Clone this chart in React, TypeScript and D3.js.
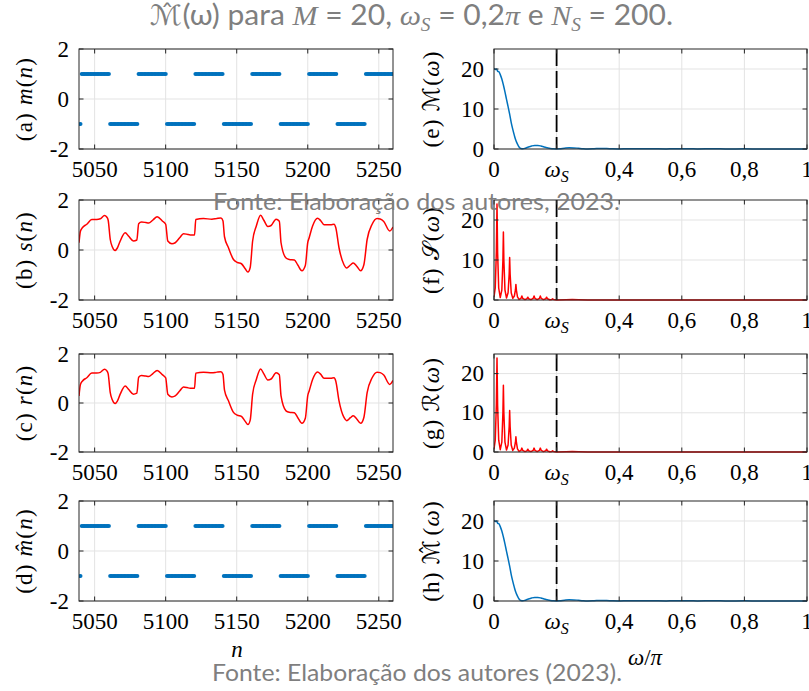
import React from "react";
import * as d3 from "d3";

// ---------- data ----------
const M_BLOCK = 20;
const blockStart = 5021;
const bits = [-1, 1, -1, 1, -1, 1, -1, 1, -1, 1, -1, 1];
const nFirst = 5040;
const nLast = 5260;

// s(n) keypoints
const sN = [5039, 5040, 5041.5, 5044.5, 5048, 5051.5, 5054, 5057, 5058.5, 5059.5, 5061, 5062.5, 5064.4, 5066, 5068, 5071.5, 5074, 5077.3, 5079.7, 5081, 5083, 5086, 5088, 5091, 5094, 5097.8, 5100, 5101.5, 5104.4, 5106.7, 5110, 5112.5, 5115, 5117.3, 5120.3, 5121.2, 5126.6, 5132.5, 5136, 5138.9, 5140.3, 5141.4, 5144.2, 5147.7, 5150.5, 5153.3, 5156, 5157.9, 5159.5, 5161.2, 5163.8, 5166.8, 5169, 5171.9, 5174.2, 5177.7, 5180, 5181.2, 5184.7, 5187, 5190.6, 5193, 5195.9, 5198.3, 5200, 5201, 5203.4, 5206.9, 5209, 5211.5, 5216.2, 5218.5, 5219.7, 5222, 5225.5, 5227.4, 5230, 5232, 5234.5, 5237.2, 5239.5, 5241.8, 5245.3, 5248.8, 5251, 5253.5, 5257.7, 5260];
const sV = [0.29, 0.75, 0.9, 1.03, 1.22, 1.22, 1.25, 1.38, 1.32, 1.2, 0.42, 0.12, -0.02, 0.08, 0.36, 0.69, 0.55, 0.36, 0.4, 1.05, 1.12, 1.1, 1.08, 1.2, 1.33, 1.15, 1.03, 0.36, 0.25, 0.29, 0.5, 0.65, 0.63, 0.6, 0.6, 1.22, 1.26, 1.23, 1.26, 1.28, 1.17, 0.53, 0.09, -0.38, -0.5, -0.55, -0.75, -0.88, -0.7, 0.36, 0.96, 1.39, 1.2, 0.94, 0.98, 1.23, 1.15, 0.29, -0.32, -0.38, -0.4, -0.6, -0.83, -0.62, 0.3, 0.49, 0.96, 1.27, 1.18, 1.01, 1.01, 1.03, 0.9, 0.09, -0.59, -0.72, -0.6, -0.52, -0.65, -0.83, -0.59, 0.42, 1.03, 1.26, 1.24, 1.14, 0.76, 0.92];
// r(n) reads the same as s(n)
const rN = sN;
const rV = sV;

// |M(w)| keypoints (w/pi)
const mW = [0, 0.004, 0.008, 0.012, 0.016, 0.02, 0.025, 0.03, 0.035, 0.04, 0.045, 0.05, 0.055, 0.06, 0.065, 0.07, 0.075, 0.08, 0.086, 0.092, 0.1, 0.11, 0.12, 0.13, 0.14, 0.15, 0.16, 0.17, 0.18, 0.19, 0.2, 0.21, 0.225, 0.24, 0.255, 0.27, 0.285, 0.3, 0.32, 0.34, 0.36, 0.38, 0.4, 0.43, 0.46, 0.5, 0.55, 0.6, 0.65, 0.7, 0.75, 0.8, 0.85, 0.9, 0.95, 1];
const mV = [20.2, 19.9, 20.0, 19.4, 19.3, 18.6, 17.5, 16.0, 14.3, 12.4, 10.6, 8.7, 6.6, 4.9, 3.4, 2.1, 1.2, 0.5, 0.1, 0.05, 0.2, 0.5, 0.75, 0.9, 0.9, 0.75, 0.5, 0.3, 0.12, 0.04, 0.03, 0.08, 0.2, 0.3, 0.28, 0.18, 0.08, 0.03, 0.08, 0.15, 0.12, 0.05, 0.03, 0.08, 0.05, 0.07, 0.03, 0.06, 0.03, 0.05, 0.02, 0.04, 0.02, 0.03, 0.02, 0.02];
const mhW = mW;
const mhV = mV;

// |S(w)| keypoints (w/pi)
const sW = [0, 0.004, 0.0075, 0.0096, 0.0115, 0.015, 0.02, 0.025, 0.0285, 0.03, 0.0315, 0.035, 0.04, 0.045, 0.0485, 0.05, 0.0515, 0.055, 0.06, 0.065, 0.0685, 0.07, 0.0715, 0.075, 0.08, 0.086, 0.089, 0.092, 0.099, 0.105, 0.108, 0.111, 0.118, 0.125, 0.128, 0.131, 0.138, 0.145, 0.148, 0.151, 0.158, 0.165, 0.168, 0.171, 0.178, 0.185, 0.187, 0.19, 0.2, 0.23, 0.25, 0.27, 0.3, 0.5, 0.7, 1];
const sMag = [0.8, 3, 12, 24, 12, 3, 0.6, 2.5, 10, 17, 10, 2.5, 0.5, 1.8, 6.5, 10.6, 6.5, 1.8, 0.4, 1, 2.5, 3.9, 2.5, 0.8, 0.15, 0.4, 1.0, 0.4, 0.1, 0.3, 0.7, 0.3, 0.1, 0.4, 1.0, 0.4, 0.1, 0.4, 1.0, 0.4, 0.1, 0.3, 0.7, 0.3, 0.05, 0.15, 0.3, 0.15, 0.02, 0.08, 0.1, 0.05, 0.02, 0.02, 0.01, 0.01];
const rW = sW;
const rMag = sMag;

const nTicks = [5050, 5100, 5150, 5200, 5250];
const nTickLabels = ["5050", "5100", "5150", "5200", "5250"];
const ampTicks = [-2, 0, 2];
const ampTickLabels = ["-2", "0", "2"];
const wTicks = [0, 0.2, 0.4, 0.6, 0.8, 1];
const wTickLabels = ["0", "wS", "0,4", "0,6", "0,8", "1"];
const magTicks = [0, 10, 20];
const magTickLabels = ["0", "10", "20"];
const omegaS = 0.2;

// ---------- layout ----------
const W = 809;
const H = 691;
const LX: [number, number] = [79, 393];
const RX: [number, number] = [494, 807];
const ROWS: [number, number][] = [[49, 149], [200, 300], [354, 452], [501, 601]];
const SERIF = "'Liberation Serif', 'Times New Roman', serif";
const SCRIPT = "'DejaVu Sans', sans-serif";
const SANS = "Lato, 'Open Sans', sans-serif";
const GRAY = "#7f7f7f";
const BLUE = "#0072BD";
const RED = "#FF0000";
const FS = 23;

function TickLabel({ label, x, y }: { label: string; x: number; y: number }) {
  if (label === "wS") {
    return (
      <text x={x} y={y} textAnchor="middle" fontFamily={SERIF} fontSize={FS}>
        <tspan fontStyle="italic">ω</tspan>
        <tspan fontStyle="italic" fontSize={16} dy={5}>S</tspan>
      </text>
    );
  }
  return (
    <text x={x} y={y} textAnchor="middle" fontFamily={SERIF} fontSize={FS}>
      {label}
    </text>
  );
}

function Panel({
  id, xr, yr, xDomain, yDomain, xTicks, xLabels, yTicks, yLabels, showXLabels, children, yLabel, yLabelX,
}: any) {
  const x = d3.scaleLinear().domain(xDomain).range(xr);
  const y = d3.scaleLinear().domain(yDomain).range([yr[1], yr[0]]);
  const tl = 4.5;
  return (
    <g>
      <defs>
        <clipPath id={"clip-" + id}>
          <rect x={xr[0]} y={yr[0] - 1} width={xr[1] - xr[0]} height={yr[1] - yr[0] + 2} />
        </clipPath>
      </defs>
      <rect x={xr[0]} y={yr[0]} width={xr[1] - xr[0]} height={yr[1] - yr[0]} fill="#fff" />
      {xTicks.map((t: number) => (
        <line key={"gx" + t} x1={x(t)} x2={x(t)} y1={yr[0]} y2={yr[1]} stroke="#e3e3e3" strokeWidth={1} />
      ))}
      {yTicks.map((t: number) => (
        <line key={"gy" + t} x1={xr[0]} x2={xr[1]} y1={y(t)} y2={y(t)} stroke="#e3e3e3" strokeWidth={1} />
      ))}
      <g clipPath={`url(#clip-${id})`}>{children(x, y)}</g>
      <rect x={xr[0]} y={yr[0]} width={xr[1] - xr[0]} height={yr[1] - yr[0]} fill="none" stroke="#262626" strokeWidth={1} />
      {xTicks.map((t: number) => (
        <g key={"tx" + t}>
          <line x1={x(t)} x2={x(t)} y1={yr[1]} y2={yr[1] - tl} stroke="#262626" />
          <line x1={x(t)} x2={x(t)} y1={yr[0]} y2={yr[0] + tl} stroke="#262626" />
        </g>
      ))}
      {yTicks.map((t: number) => (
        <g key={"ty" + t}>
          <line x1={xr[0]} x2={xr[0] + tl} y1={y(t)} y2={y(t)} stroke="#262626" />
          <line x1={xr[1]} x2={xr[1] - tl} y1={y(t)} y2={y(t)} stroke="#262626" />
        </g>
      ))}
      {showXLabels &&
        xTicks.map((t: number, i: number) => (
          <TickLabel key={"lx" + t} label={xLabels[i]} x={x(t)} y={yr[1] + 28} />
        ))}
      {yTicks.map((t: number, i: number) => (
        <text key={"ly" + t} x={xr[0] - 10} y={y(t) + 7.5} textAnchor="end" fontFamily={SERIF} fontSize={FS}>
          {yLabels[i]}
        </text>
      ))}
      <text
        transform={`translate(${yLabelX},${(yr[0] + yr[1]) / 2}) rotate(-90)`}
        textAnchor="middle"
        fontFamily={SERIF}
        fontSize={FS}
        letterSpacing={1.2}
      >
        {yLabel}
      </text>
    </g>
  );
}

function lineOf(xs: number[], ys: number[], x: any, y: any, curve: any) {
  const pts = xs.map((v, i) => [v, ys[i]] as [number, number]);
  return d3.line<[number, number]>().x((d) => x(d[0])).y((d) => y(d[1])).curve(curve)(pts) || "";
}

function mSamples() {
  const out: [number, number][] = [];
  for (let n = nFirst; n <= nLast; n++) {
    const k = Math.floor((n - blockStart) / M_BLOCK);
    out.push([n, bits[k]]);
  }
  return out;
}

// script M with a hat drawn as a separate glyph
function HatM({ size }: { size: number }) {
  return (
    <>
      <tspan fontFamily={SCRIPT}>ℳ</tspan>
      <tspan fontFamily={SCRIPT} dx={-size * 0.72} dy={-size * 0.12} fontSize={size * 0.9}>ˆ</tspan>
      <tspan dx={size * 0.22} dy={size * 0.12}>{"\u200A"}</tspan>
    </>
  );
}

export default function App() {
  const mData = mSamples();
  const timeDomain = [5039, 5260];
  const magDomain = [0, 25];
  const it = (s: string) => <tspan fontStyle="italic">{s}</tspan>;

  const dotPlot = (x: any, y: any) =>
    mData.map((d, i) => <circle key={i} cx={x(d[0])} cy={y(d[1])} r={2.1} fill={BLUE} />);
  const redLine = (xs: number[], ys: number[]) => (x: any, y: any) => (
    <path d={lineOf(xs, ys, x, y, d3.curveMonotoneX)} fill="none" stroke={RED} strokeWidth={1.5} />
  );
  const specLine = (xs: number[], ys: number[], color: string, curve: any) => (x: any, y: any) => (
    <g>
      <path d={lineOf(xs, ys, x, y, curve)} fill="none" stroke={color} strokeWidth={1.5} strokeLinejoin="round" />
      <line x1={x(omegaS)} x2={x(omegaS)} y1={y(25)} y2={y(0)} stroke="#000" strokeWidth={1.8} strokeDasharray="17,5" />
    </g>
  );

  const leftLabels = [
    <>(a) {it("m")}({it("n")})</>,
    <>(b) {it("s")}({it("n")})</>,
    <>(c) {it("r")}({it("n")})</>,
    <>(d) {it("m\u0302")}({it("n")})</>,
  ];
  const rightLabels = [
    <>(e) <tspan fontFamily={SCRIPT}>ℳ</tspan>({it("ω")})</>,
    <>(f) 𝒮({it("ω")})</>,
    <>(g) <tspan fontFamily={SCRIPT}>ℛ</tspan>({it("ω")})</>,
    <>(h) <HatM size={FS} />({it("ω")})</>,
  ];
  const leftContent = [dotPlot, redLine(sN, sV), redLine(rN, rV), dotPlot];
  const rightContent = [
    specLine(mW, mV, BLUE, d3.curveMonotoneX),
    specLine(sW, sMag, RED, d3.curveLinear),
    specLine(rW, rMag, RED, d3.curveLinear),
    specLine(mhW, mhV, BLUE, d3.curveMonotoneX),
  ];

  return (
    <svg
      width={W}
      height={H}
      viewBox={`0 0 ${W} ${H}`}
      style={{ position: "fixed", left: 0, top: 0, background: "#fff" }}
    >
      <rect width={W} height={H} fill="#fff" />
      {ROWS.map((yr, i) => (
        <Panel
          key={"L" + i}
          id={"L" + i}
          xr={LX}
          yr={yr}
          xDomain={timeDomain}
          yDomain={[-2, 2]}
          xTicks={nTicks}
          xLabels={nTickLabels}
          yTicks={ampTicks}
          yLabels={ampTickLabels}
          showXLabels={true}
          yLabel={leftLabels[i]}
          yLabelX={32}
        >
          {leftContent[i]}
        </Panel>
      ))}
      {ROWS.map((yr, i) => (
        <Panel
          key={"R" + i}
          id={"R" + i}
          xr={RX}
          yr={yr}
          xDomain={[0, 1]}
          yDomain={magDomain}
          xTicks={wTicks}
          xLabels={wTickLabels}
          yTicks={magTicks}
          yLabels={magTickLabels}
          showXLabels={true}
          yLabel={rightLabels[i]}
          yLabelX={439}
        >
          {rightContent[i]}
        </Panel>
      ))}
      <text x={237} y={657} textAnchor="middle" fontFamily={SERIF} fontSize={FS} fontStyle="italic">n</text>
      <text x={645} y={665} textAnchor="middle" fontFamily={SERIF} fontSize={FS}>
        {it("ω")}/{it("π")}
      </text>
      {/* gray texts */}
      <text x={150} y={25} fontFamily={SANS} fontSize={28} fill={GRAY} textLength={523} lengthAdjust="spacingAndGlyphs">
        <HatM size={28} />(ω) para <tspan fontFamily={SERIF} fontStyle="italic">M</tspan> = 20,{" "}
        <tspan fontFamily={SERIF} fontStyle="italic">ω</tspan>
        <tspan fontFamily={SERIF} fontStyle="italic" fontSize={18} dy={6}>S</tspan>
        <tspan dy={-6}> = 0,2</tspan>
        <tspan fontFamily={SERIF} fontStyle="italic">π</tspan> e{" "}
        <tspan fontFamily={SERIF} fontStyle="italic">N</tspan>
        <tspan fontFamily={SERIF} fontStyle="italic" fontSize={18} dy={6}>S</tspan>
        <tspan dy={-6}> = 200.</tspan>
      </text>
      <text x={213} y={210} fontFamily={SANS} fontSize={24} fill={GRAY} textLength={407} lengthAdjust="spacingAndGlyphs">
        Fonte: Elaboração dos autores, 2023.
      </text>
      <text x={212} y={681} fontFamily={SANS} fontSize={24} fill={GRAY} textLength={410} lengthAdjust="spacingAndGlyphs">
        Fonte: Elaboração dos autores (2023).
      </text>
    </svg>
  );
}
